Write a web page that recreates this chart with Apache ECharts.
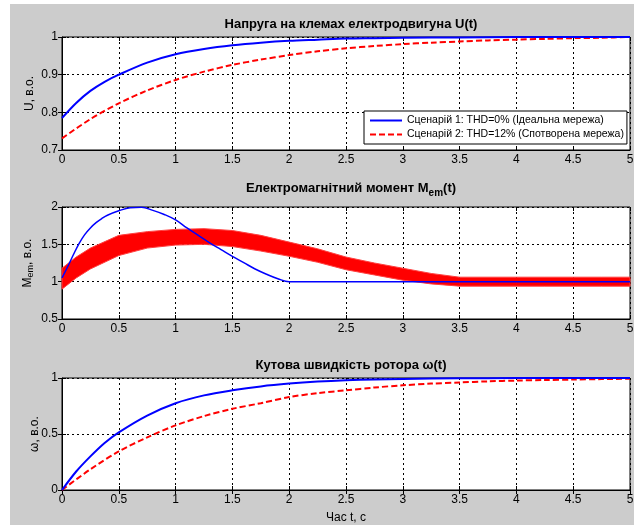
<!DOCTYPE html>
<html><head><meta charset="utf-8">
<script src="https://cdn.jsdelivr.net/npm/echarts@6/dist/echarts.min.js"></script>
<style>
html,body{margin:0;padding:0;background:#fff;}
#bg{position:absolute;left:10px;top:4px;width:624px;height:521px;background:#cccccc;}
#chart{position:absolute;left:0;top:0;width:637px;height:525px;}
</style></head>
<body><div id="bg"></div><div id="chart"></div>
<script>
// ---- data ----
const xTicks = [0,0.5,1,1.5,2,2.5,3,3.5,4,4.5,5];
const seriesNames = ['Сценарій 1: THD=0% (Ідеальна мережа)', 'Сценарій 2: THD=12% (Спотворена мережа)'];

// Voltage U(t)
const tU1 = [0,0.125,0.25,0.375,0.5,0.75,1,1.25,1.5,1.75,2,2.25,2.5,2.75,3,3.5,4,5];
const U1  = [0.785,0.825,0.857,0.881,0.900,0.932,0.954,0.968,0.978,0.985,0.990,0.993,0.996,0.997,0.998,0.999,1.0,1.0];
const tU2 = [0,0.25,0.5,0.75,1,1.25,1.5,1.75,2,2.25,2.5,2.75,3,3.25,3.5,3.75,4,4.25,4.5,4.75,5];
const U2  = [0.731,0.782,0.824,0.858,0.886,0.908,0.926,0.940,0.952,0.962,0.970,0.976,0.981,0.985,0.988,0.991,0.993,0.995,0.997,0.998,1.0];

// Torque M_em(t)
const tM1 = [0,0.05,0.1,0.15,0.2,0.25,0.3,0.35,0.4,0.5,0.6,0.7,0.8,0.9,1.0,1.1,1.2,1.3,1.4,1.5,1.6,1.7,1.8,1.9,2.0,2.5,3.0,3.5,4.0,4.5,5.0];
const M1  = [1.05,1.20,1.36,1.51,1.63,1.72,1.79,1.845,1.89,1.95,1.99,1.995,1.955,1.90,1.827,1.72,1.62,1.52,1.43,1.34,1.255,1.17,1.10,1.04,1.0,1.0,1.0,1.0,1.0,1.0,1.0];
const tM2 = [0,0.125,0.25,0.5,0.75,1,1.25,1.5,1.75,2,2.25,2.5,2.75,3,3.25,3.5,3.75,4,4.25,4.5,4.75,5];
const M2low  = [0.90,1.05,1.17,1.35,1.45,1.49,1.50,1.47,1.41,1.34,1.26,1.16,1.09,1.02,0.97,0.94,0.94,0.94,0.94,0.94,0.94,0.94];
const M2high = [1.18,1.33,1.45,1.62,1.67,1.70,1.71,1.685,1.62,1.53,1.44,1.33,1.25,1.18,1.11,1.06,1.06,1.06,1.06,1.06,1.06,1.06];

// Rotor speed ω(t)
const tW1 = [0,0.125,0.25,0.375,0.5,0.75,1,1.25,1.5,1.75,2,2.25,2.5,2.75,3,3.5,4,5];
const W1  = [0,0.165,0.30,0.42,0.515,0.665,0.775,0.845,0.89,0.925,0.95,0.968,0.98,0.987,0.992,0.997,0.999,1.0];
const tW2 = [0,0.25,0.5,0.75,1,1.25,1.5,1.75,2,2.25,2.5,2.75,3,3.25,3.5,3.75,4,4.25,4.5,4.75,5];
const W2  = [0,0.185,0.345,0.47,0.577,0.66,0.725,0.775,0.83,0.865,0.89,0.915,0.935,0.95,0.96,0.97,0.977,0.982,0.986,0.99,0.994];

const yTicksU = [0.7,0.8,0.9,1];
const yTicksM = [0.5,1,1.5,2];
const yTicksW = [0,0.5,1];

// ---- chart ----
const FONT = 'Arial, "Liberation Sans", sans-serif';
const pair = (xs, ys) => xs.map((x,i)=>[x, ys[i]]);
const grids = [
  {left:62, top:37, width:568, height:113},
  {left:62, top:207, width:568, height:112},
  {left:62, top:378, width:568, height:112}
].map(g=>Object.assign(g,{show:true, backgroundColor:'#fff', borderColor:'#000', borderWidth:1}));

const gridLine = {show:true, lineStyle:{color:'#000', type:[2,3], width:1}};
function xAx(i, name){
  return {type:'value', gridIndex:i, min:0, max:5, interval:0.5,
    axisLine:{show:true, onZero:false, lineStyle:{color:'#000'}},
    axisTick:{show:true, inside:true, length:4, lineStyle:{color:'#000'}},
    axisLabel:{color:'#000', fontFamily:FONT, fontSize:12, margin:4,
      formatter:v=> xTicks.includes(+v.toFixed(2)) ? String(+v.toFixed(2)) : ''},
    splitLine:gridLine,
    name:name||'', nameLocation:'middle', nameGap:22, nameMoveOverlap:false,
    nameTextStyle:{color:'#000', fontFamily:FONT, fontSize:12}};
}
function xAxTop(i){
  return {type:'value', gridIndex:i, min:0, max:5, interval:0.5, position:'top',
    axisLine:{show:false}, axisTick:{show:true, inside:true, length:4, lineStyle:{color:'#000'}},
    axisLabel:{show:false}, splitLine:{show:false}};
}
function yAx(i, ticks, name, gap, rich){
  const step = ticks[1]-ticks[0];
  return {type:'value', gridIndex:i, min:ticks[0], max:ticks[ticks.length-1], interval:step,
    axisLine:{show:true, onZero:false, lineStyle:{color:'#000'}},
    axisTick:{show:true, inside:true, length:4, lineStyle:{color:'#000'}},
    axisLabel:{color:'#000', fontFamily:FONT, fontSize:12, margin:4,
      formatter:v=>String(+(+v).toFixed(2))},
    splitLine:gridLine,
    name:name, nameLocation:'middle', nameGap:gap, nameMoveOverlap:false,
    nameTextStyle:{color:'#000', fontFamily:FONT, fontSize:12, rich:rich}};
}
function yAxRight(i, ticks){
  const step = ticks[1]-ticks[0];
  return {type:'value', gridIndex:i, min:ticks[0], max:ticks[ticks.length-1], interval:step, position:'right',
    axisLine:{show:false}, axisTick:{show:true, inside:true, length:4, lineStyle:{color:'#000'}},
    axisLabel:{show:false}, splitLine:{show:false}};
}

const subRich = {
  n:{fontFamily:FONT, fontSize:12, color:'#000'},
  s:{fontFamily:FONT, fontSize:9, color:'#000', padding:[6,0,0,0]}
};
const titleRich = {
  n:{fontFamily:FONT, fontSize:13, fontWeight:'bold', color:'#000'},
  s:{fontFamily:FONT, fontSize:10, fontWeight:'bold', color:'#000', padding:[9,0,0,0]}
};

const option = {
  backgroundColor:'transparent',
  animation:false,
  title:[
    {text:'Напруга на клемах електродвигуна U(t)', left:346, top:13, textAlign:'center',
      textStyle:{fontFamily:FONT, fontSize:13, fontWeight:'bold', color:'#000'}},
    {text:'{n|Електромагнітний момент M}{s|em}{n|(t)}', left:346, top:174, textAlign:'center',
      textStyle:{fontFamily:FONT, fontSize:13, fontWeight:'bold', color:'#000', rich:titleRich}},
    {text:'Кутова швидкість ротора ω(t)', left:346, top:354, textAlign:'center',
      textStyle:{fontFamily:FONT, fontSize:13, fontWeight:'bold', color:'#000'}}
  ],
  legend:{
    data:[
      {name:seriesNames[0], icon:'path://M0,0h32v2h-32z', itemStyle:{color:'#0000ff'}},
      {name:seriesNames[1], icon:'path://M0,0h6v2h-6zM9,0h6v2h-6zM18,0h6v2h-6zM27,0h5v2h-5z', itemStyle:{color:'#ff0000'}}
    ],
    orient:'vertical', left:364, top:111,
    backgroundColor:'#fff', borderColor:'#000', borderWidth:1, padding:[4,3,4,6],
    itemWidth:32, itemHeight:2, itemGap:3,
    textStyle:{fontFamily:FONT, fontSize:10.5, color:'#000'}},
  grid:grids,
  xAxis:[xAx(0), xAx(1), xAx(2,'Час t, c'), xAxTop(0), xAxTop(1), xAxTop(2)],
  yAxis:[
    yAx(0, yTicksU, 'U, в.о.', 26),
    yAx(1, yTicksM, '{n|M}{s|em}{n|, в.о.}', 27, subRich),
    yAx(2, yTicksW, 'ω, в.о.', 21),
    yAxRight(0, yTicksU), yAxRight(1, yTicksM), yAxRight(2, yTicksW)
  ],
  series:[
    {name:seriesNames[0], type:'line', xAxisIndex:0, yAxisIndex:0, data:pair(tU1,U1), smooth:0.3, symbol:'none',
      lineStyle:{color:'#0000ff', width:2}, itemStyle:{color:'#0000ff'}, z:3},
    {name:seriesNames[1], type:'line', xAxisIndex:0, yAxisIndex:0, data:pair(tU2,U2), smooth:0.3, symbol:'none',
      lineStyle:{color:'#ff0000', width:2, type:[6,3]}, itemStyle:{color:'#ff0000'}, z:2},

    {name:seriesNames[1], type:'custom', xAxisIndex:1, yAxisIndex:1, z:2,
      data:tM2.map((t,i)=>[t, M2low[i], M2high[i]]),
      renderItem:function(params, api){
        if (params.dataIndex !== 0) return null;
        const up = [], lo = [];
        for (let i=0;i<tM2.length;i++){
          up.push(api.coord([tM2[i], M2high[i]]));
          lo.push(api.coord([tM2[i], M2low[i]]));
        }
        return {type:'polygon', shape:{points:up.concat(lo.reverse())},
          style:{fill:'#ff0000', stroke:'#ff4040', lineWidth:1}};
      }},
    {name:seriesNames[0], type:'line', xAxisIndex:1, yAxisIndex:1, data:pair(tM1,M1), smooth:0.4, symbol:'none',
      lineStyle:{color:'#0000ff', width:1.5}, itemStyle:{color:'#0000ff'}, z:3},

    {name:seriesNames[0], type:'line', xAxisIndex:2, yAxisIndex:2, data:pair(tW1,W1), smooth:0.3, symbol:'none',
      lineStyle:{color:'#0000ff', width:2}, itemStyle:{color:'#0000ff'}, z:3},
    {name:seriesNames[1], type:'line', xAxisIndex:2, yAxisIndex:2, data:pair(tW2,W2), smooth:0.3, symbol:'none',
      lineStyle:{color:'#ff0000', width:2, type:[6,3]}, itemStyle:{color:'#ff0000'}, z:2}
  ]
};
const chart = echarts.init(document.getElementById('chart'), null, {renderer:'canvas'});
chart.setOption(option);
</script></body></html>
